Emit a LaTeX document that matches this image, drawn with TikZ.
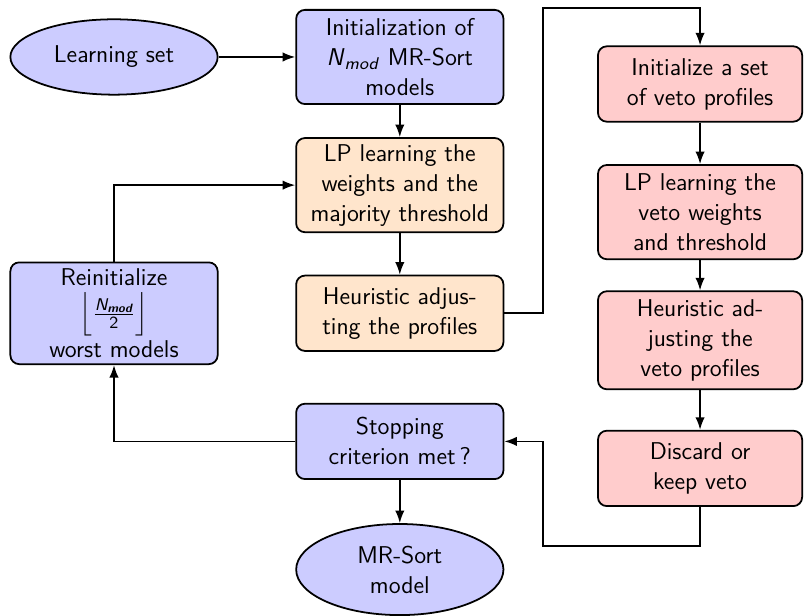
\documentclass[tikz,border=0pt]{standalone}
\usepackage{amsmath}
\usepackage{xcolor}
\usepackage{tikz}
\usetikzlibrary{shapes.geometric,arrows.meta,positioning}
\newcommand{\Nmod}{\textit{N}\textsubscript{\textit{mod}}}
\tikzset{
    terminal/.style={ellipse, draw, thick, fill=blue!20, minimum width=3.3cm, minimum height=1.2cm, inner sep=1pt, align=center},
    block/.style={rectangle, draw, thick, rounded corners, minimum width=3.3cm, minimum height=1.2cm, inner sep=2pt, align=center},
    mainblock/.style={block, fill=blue!20},
    mrblock/.style={block, fill=orange!20},
    vetoblock/.style={block, fill=red!20, minimum width=3.25cm},
    tall/.style={minimum height=1.5cm},
    flow/.style={-{Latex[length=2mm, width=1.5mm]}, thick},
}

\begin{document}
\begin{tikzpicture}[node distance=2.04cm and 4.55cm, on grid, font=\sffamily\fontsize{11}{13.6}\selectfont]
    \useasboundingbox (-1.815,0.907) rectangle (10.985,-8.899);
    % main loop
    \node[terminal] (learn) {Learning set};
    \node[mainblock, tall, right=of learn] (init) {Initialization of\\ \Nmod{} MR-Sort\\ models};
    \node[mrblock, tall, below=of init] (lp) {LP learning the\\ weights and the\\ majority threshold};
    \node[mrblock, below=of lp] (heur) {Heuristic adjus-\\ting the profiles};
    \node[mainblock, below=of heur] (stop) {Stopping\\ criterion met\,?};
    \node[terminal, minimum height=1.45cm, below=of stop] (out) {MR-Sort\\ model};
    \node[mainblock, minimum height=1.62cm, left=of heur] (reinit) {Reinitialize\\[2pt] $\Bigl\lfloor\frac{\text{\itshape N}_{\text{\bfseries\itshape mod}}}{\text{2}}\Bigr\rfloor$\\[1pt] worst models};
    % veto part
    \node[vetoblock, below right=0.43cm and 4.78cm of init] (vinit) {Initialize a set\\ of veto profiles};
    \node[vetoblock, tall, below=of vinit] (vlp) {LP learning the\\ veto weights\\ and threshold};
    \node[vetoblock, minimum height=1.56cm, below=of vlp] (vheur) {Heuristic ad-\\justing the\\ veto profiles};
    \node[vetoblock, below=of vheur] (keep) {Discard or\\ keep veto};

    \draw[flow] (learn) -- (init);
    \draw[flow] (init) -- (lp);
    \draw[flow] (lp) -- (heur);
    \draw[flow] (heur.east) -- ++(0.62,0) |- ([yshift=6mm]vinit.north) -- (vinit.north);
    \draw[flow] (vinit) -- (vlp);
    \draw[flow] (vlp) -- (vheur);
    \draw[flow] (vheur) -- (keep);
    \draw[flow] (keep.south) -- ++(0,-0.62) -| ([xshift=6.1mm]stop.east) -- (stop.east);
    \draw[flow] (stop) -- (out);
    \draw[flow] (stop.west) -| (reinit.south);
    \draw[flow] (reinit.north) |- (lp.west);
\end{tikzpicture}
\end{document}
